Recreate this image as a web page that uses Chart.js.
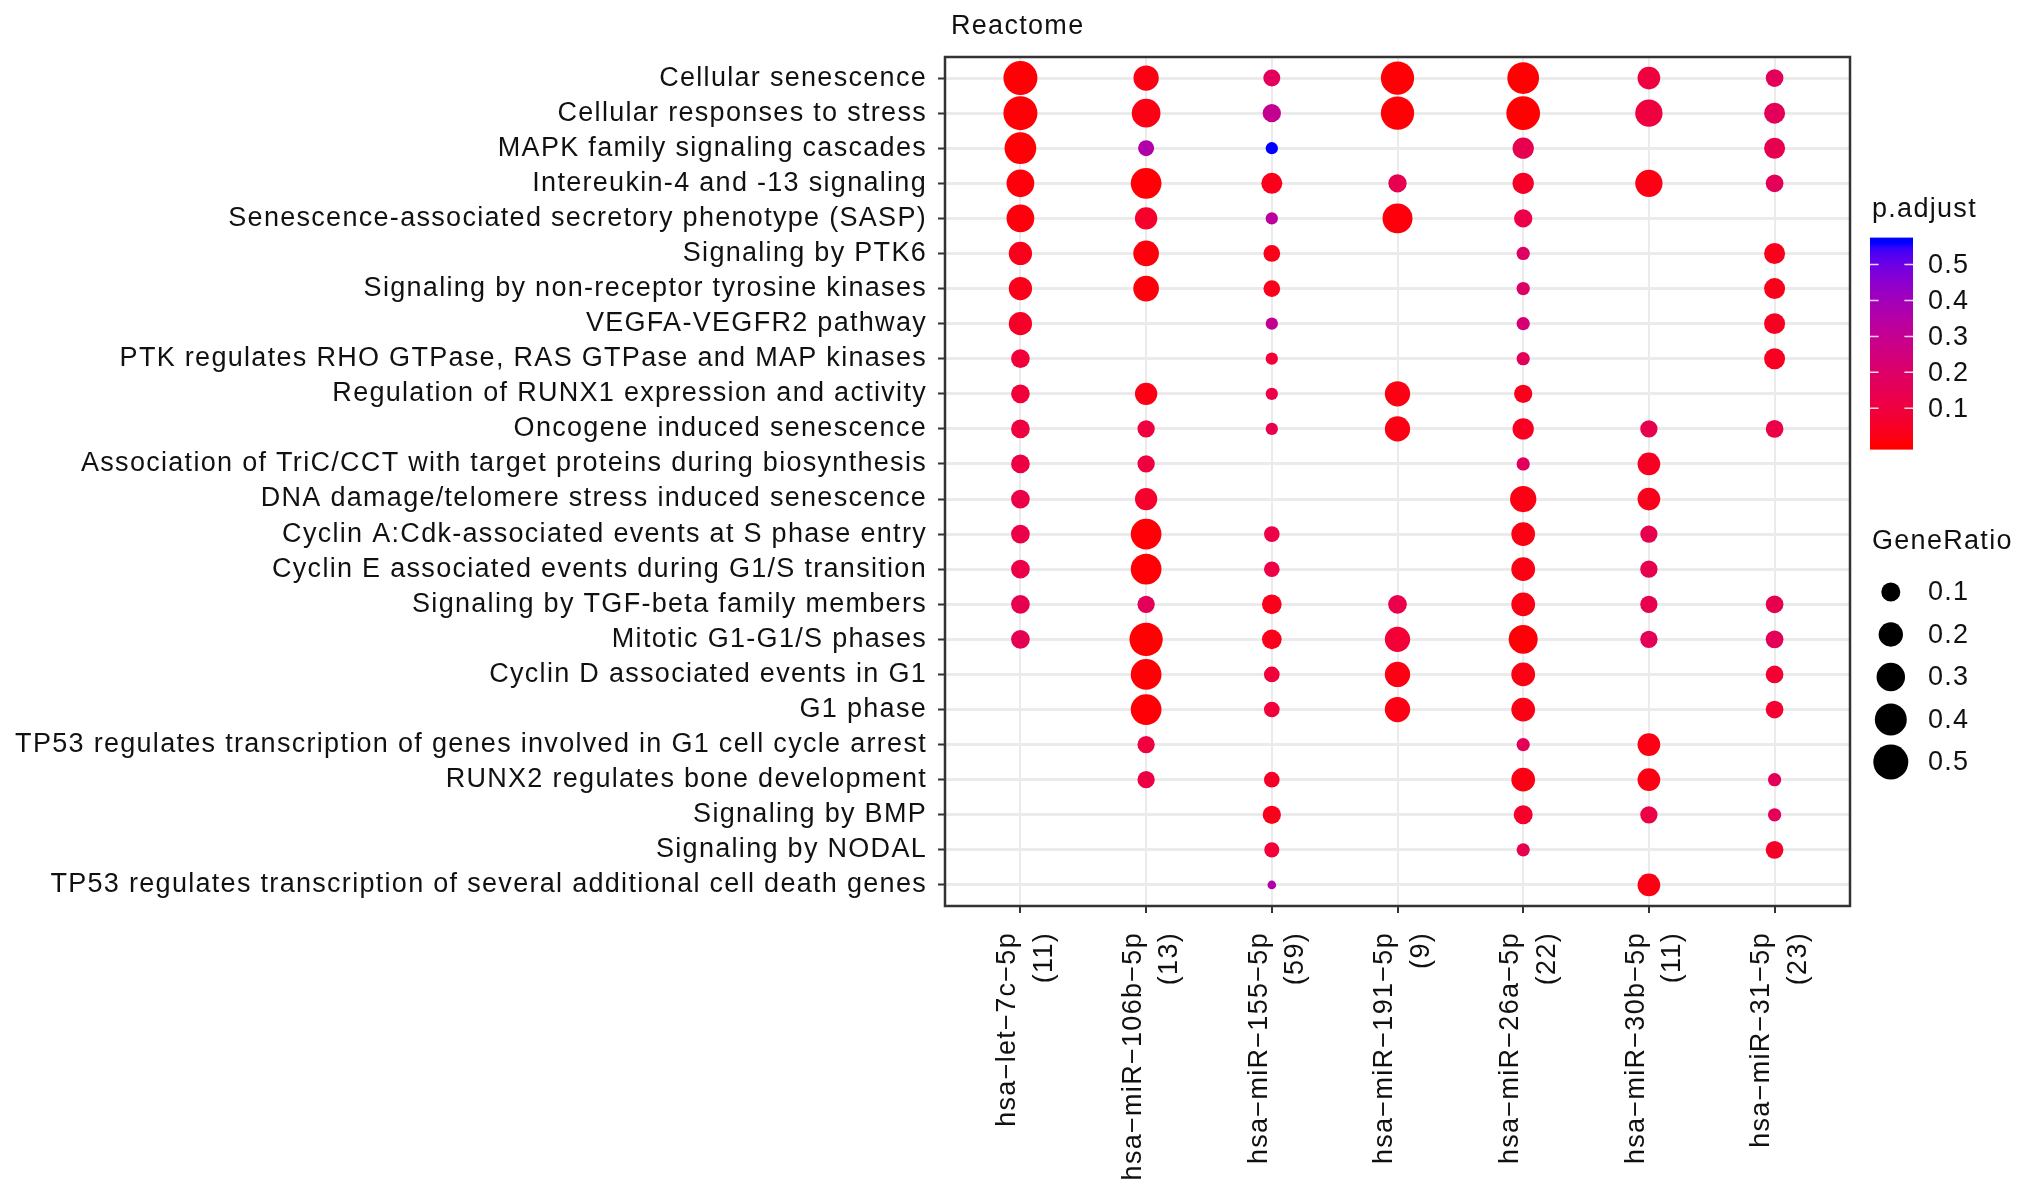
<!DOCTYPE html>
<html><head><meta charset="utf-8">
<script src="https://cdn.jsdelivr.net/npm/chart.js@4.4.1/dist/chart.umd.min.js"></script>
<style>html,body{margin:0;padding:0;background:#fff;}canvas{display:block;}</style>
</head><body>
<canvas id="c" width="2032" height="1192" style="width:2032px;height:1192px"></canvas>
<script>
// ---------------- DATA ----------------
const pathways = [
  "Cellular senescence",
  "Cellular responses to stress",
  "MAPK family signaling cascades",
  "Intereukin-4 and -13 signaling",
  "Senescence-associated secretory phenotype (SASP)",
  "Signaling by PTK6",
  "Signaling by non-receptor tyrosine kinases",
  "VEGFA-VEGFR2 pathway",
  "PTK regulates RHO GTPase, RAS GTPase and MAP kinases",
  "Regulation of RUNX1 expression and activity",
  "Oncogene induced senescence",
  "Association of TriC/CCT with target proteins during biosynthesis",
  "DNA damage/telomere stress induced senescence",
  "Cyclin A:Cdk-associated events at S phase entry",
  "Cyclin E associated events during G1/S transition",
  "Signaling by TGF-beta family members",
  "Mitotic G1-G1/S phases",
  "Cyclin D associated events in G1",
  "G1 phase",
  "TP53 regulates transcription of genes involved in G1 cell cycle arrest",
  "RUNX2 regulates bone development",
  "Signaling by BMP",
  "Signaling by NODAL",
  "TP53 regulates transcription of several additional cell death genes"
];
const mirnas = ["hsa\u2212let\u22127c\u22125p","hsa\u2212miR\u2212106b\u22125p","hsa\u2212miR\u2212155\u22125p","hsa\u2212miR\u2212191\u22125p","hsa\u2212miR\u221226a\u22125p","hsa\u2212miR\u221230b\u22125p","hsa\u2212miR\u221231\u22125p"];
const geneCounts = [11, 13, 59, 9, 22, 11, 23];

const _ = null;
// GeneRatio per miRNA (row order = pathways)
const ratioLet7c  = [.466,.466,.393,.28,.28,.177,.177,.177,.095,.095,.095,.095,.095,.095,.095,.095,.095,_,_,_,_,_,_,_];
const ratio106b   = [.221,.306,.059,.363,.158,.230,.230,_,_,.158,.075,.075,.158,.363,.363,.075,.443,.363,.363,.075,.075,_,_,_];
const ratio155    = [.071,.089,.023,.133,.023,.068,.068,.023,.023,.023,.023,_,_,.055,.055,.111,.111,.055,.055,_,.055,.089,.048,.004];
const ratio191    = [.443,.443,_,.089,.342,_,_,_,_,.221,.221,_,_,_,_,.095,.221,.221,.221,_,_,_,_,_];
const ratio26a    = [.393,.456,.139,.139,.089,.031,.031,.031,.031,.089,.139,.031,.245,.186,.186,.186,.314,.186,.186,.031,.186,.100,.031,_];
const ratio30b    = [.165,.269,_,.269,_,_,_,_,_,_,.075,.165,.165,.075,.075,.075,.075,_,_,.165,.165,.075,_,.165];
const ratio31     = [.081,.133,.133,.081,_,.133,.133,.133,.133,_,.081,_,_,_,_,.081,.081,.081,.081,_,.031,.031,.081,_];

// p.adjust per miRNA
const padjLet7c = [.005,.005,.005,.01,.01,.03,.03,.05,.09,.09,.10,.11,.12,.12,.12,.14,.15,_,_,_,_,_,_,_];
const padj106b  = [.02,.02,.36,.005,.06,.01,.01,_,_,.02,.10,.10,.06,.005,.005,.16,.003,.005,.005,.10,.11,_,_,_];
const padj155   = [.17,.30,.56,.03,.33,.03,.03,.30,.08,.12,.14,_,_,.12,.12,.03,.03,.09,.09,_,.05,.03,.08,.36];
const padj191   = [.005,.005,_,.14,.01,_,_,_,_,.02,.02,_,_,_,_,.13,.08,.02,.02,_,_,_,_,_];
const padj26a   = [.003,.003,.14,.05,.12,.19,.19,.23,.16,.03,.04,.17,.02,.02,.02,.02,.005,.02,.02,.16,.02,.06,.14,_];
const padj30b   = [.10,.10,_,.02,_,_,_,_,_,_,.14,.04,.03,.14,.14,.14,.16,_,_,.02,.02,.12,_,.02];
const padj31    = [.16,.16,.14,.16,_,.03,.03,.04,.04,_,.12,_,_,_,_,.14,.16,.07,.07,_,.16,.16,.05,_];

const ratioSeries = [ratioLet7c, ratio106b, ratio155, ratio191, ratio26a, ratio30b, ratio31];
const padjSeries  = [padjLet7c, padj106b, padj155, padj191, padj26a, padj30b, padj31];

const pBreaks = [0.1, 0.2, 0.3, 0.4, 0.5];
const sizeBreaks = [0.1, 0.2, 0.3, 0.4, 0.5];
const P_MIN = 0, P_MAX = 0.56;

// ---------------- STYLE HELPERS ----------------
const FONT = "'Liberation Sans', Arial, Helvetica, sans-serif";
const FS = 27;
const LS = '1.3px';
const TXT = '#111111';

function s2l(c){c/=255;return c<=0.04045?c/12.92:Math.pow((c+0.055)/1.055,2.4);}
function l2s(c){c=Math.max(0,Math.min(1,c));return c<=0.0031308?12.92*c:1.055*Math.pow(c,1/2.4)-0.055;}
function rgb2lab(rgb){
  const R=s2l(rgb[0]),G=s2l(rgb[1]),B=s2l(rgb[2]);
  const X=(0.4124564*R+0.3575761*G+0.1804375*B)/0.95047;
  const Y=(0.2126729*R+0.7151522*G+0.0721750*B);
  const Z=(0.0193339*R+0.1191920*G+0.9503041*B)/1.08883;
  const f=t=>t>216/24389?Math.cbrt(t):(24389/27*t+16)/116;
  const fx=f(X),fy=f(Y),fz=f(Z);
  return [116*fy-16,500*(fx-fy),200*(fy-fz)];
}
function lab2rgb(lab){
  const fy=(lab[0]+16)/116, fx=fy+lab[1]/500, fz=fy-lab[2]/200;
  const fi=t=>{const t3=t*t*t;return t3>216/24389?t3:(116*t-16)/(24389/27);};
  const X=fi(fx)*0.95047,Y=fi(fy),Z=fi(fz)*1.08883;
  const R=3.2404542*X-1.5371385*Y-0.4985314*Z;
  const G=-0.9692660*X+1.8760108*Y+0.0415560*Z;
  const B=0.0556434*X-0.2040259*Y+1.0572252*Z;
  return [R,G,B].map(c=>Math.round(l2s(c)*255));
}
const LAB_LOW = rgb2lab([255,0,0]), LAB_HIGH = rgb2lab([0,0,255]);
function colorFor(p){
  let t=(p-P_MIN)/(P_MAX-P_MIN); t=Math.max(0,Math.min(1,t));
  const lab=[0,1,2].map(i=>LAB_LOW[i]+(LAB_HIGH[i]-LAB_LOW[i])*t);
  const c=lab2rgb(lab); return 'rgb('+c[0]+','+c[1]+','+c[2]+')';
}
function diameterFor(ratio){ return 40.9*Math.sqrt(ratio)+6.07; }

// ---------------- DATASETS ----------------
const datasets = mirnas.map((m, j) => ({
  label: m,
  data: pathways.map((pw, i) => ratioSeries[j][i] == null ? null :
    { x: j + 1, y: i + 1, r: diameterFor(ratioSeries[j][i]) / 2, p: padjSeries[j][i] }).filter(d => d),
  backgroundColor: ctx => ctx.raw ? colorFor(ctx.raw.p) : '#f00',
  borderWidth: 0,
  hoverBorderWidth: 0
}));

// ---------------- PLUGIN (title, border, legends) ----------------
const decor = {
  id: 'decor',
  beforeUpdate(chart){ chart.ctx.letterSpacing = LS; },
  beforeDraw(chart){ chart.ctx.letterSpacing = LS; },
  afterDatasetsDraw(chart){
    const a = chart.chartArea, ctx = chart.ctx;
    ctx.save();
    ctx.strokeStyle = '#333333'; ctx.lineWidth = 2.5;
    ctx.strokeRect(a.left, a.top, a.right - a.left, a.bottom - a.top);
    ctx.restore();
  },
  afterDraw(chart){
    const ctx = chart.ctx, a = chart.chartArea;
    ctx.save();
    ctx.letterSpacing = LS;
    ctx.fillStyle = TXT;
    ctx.font = FS + 'px ' + FONT;
    ctx.textAlign = 'left'; ctx.textBaseline = 'alphabetic';
    ctx.fillText('Reactome', a.left + 6, 34);

    // colour bar legend
    const lx = 1870, bw = 43, bTop = 237.6, bH = 212, bBot = bTop + bH;
    ctx.fillText('p.adjust', lx + 2, 217);
    const g = ctx.createLinearGradient(0, bBot, 0, bTop);
    const N = 40;
    for (let k = 0; k <= N; k++) {
      const t = k / N;
      const f = Math.min(1, Math.max(0, 0.025 + 0.95 * t));
      g.addColorStop(f, colorFor(P_MIN + t * (P_MAX - P_MIN)));
    }
    g.addColorStop(0, colorFor(P_MIN));
    g.addColorStop(1, colorFor(P_MAX));
    ctx.fillStyle = g;
    ctx.fillRect(lx, bTop, bw, bH);
    ctx.strokeStyle = 'rgba(255,255,255,0.85)'; ctx.lineWidth = 1.5;
    ctx.fillStyle = TXT; ctx.textBaseline = 'middle';
    pBreaks.forEach(v => {
      const y = bBot - (0.025 + 0.95 * (v - P_MIN) / (P_MAX - P_MIN)) * bH;
      ctx.beginPath();
      ctx.moveTo(lx, y); ctx.lineTo(lx + bw / 5, y);
      ctx.moveTo(lx + bw - bw / 5, y); ctx.lineTo(lx + bw, y);
      ctx.stroke();
      ctx.fillText(String(v), 1928, y + 1);
    });

    // size legend
    ctx.textBaseline = 'alphabetic';
    ctx.fillText('GeneRatio', lx + 2, 549);
    ctx.textBaseline = 'middle';
    sizeBreaks.forEach((v, k) => {
      const y = 592 + k * 42.5;
      ctx.fillStyle = '#000';
      ctx.beginPath(); ctx.arc(1890.8, y, diameterFor(v) / 2, 0, Math.PI * 2); ctx.fill();
      ctx.fillStyle = TXT;
      ctx.fillText(String(v), 1928, y + 1);
    });
    ctx.restore();
  }
};

// ---------------- CHART ----------------
new Chart(document.getElementById('c'), {
  type: 'bubble',
  data: { datasets },
  options: {
    responsive: false,
    animation: false,
    devicePixelRatio: 1,
    events: [],
    layout: { autoPadding: false, padding: { left: 0, top: 57, right: 182, bottom: 0 } },
    plugins: { legend: { display: false }, tooltip: { enabled: false }, title: { display: false } },
    scales: {
      x: {
        type: 'linear', position: 'bottom', min: 0.4, max: mirnas.length + 0.6,
        afterBuildTicks: s => { s.ticks = mirnas.map((m, i) => ({ value: i + 1 })); },
        afterFit: s => { s.height = 286; },
        border: { display: false },
        grid: { color: '#EBEBEB', lineWidth: 2, tickColor: '#333333', tickWidth: 2, tickLength: 7, drawTicks: true },
        ticks: {
          autoSkip: false, minRotation: 90, maxRotation: 90, padding: 19, labelOffset: -12.7,
          color: TXT, font: { family: FONT, size: FS, lineHeight: 1.356 },
          callback: v => { const i = Math.round(v) - 1; return [mirnas[i], '(' + geneCounts[i] + ')']; }
        }
      },
      y: {
        type: 'linear', position: 'left', reverse: true, min: 0.4, max: pathways.length + 0.6,
        afterBuildTicks: s => { s.ticks = pathways.map((p, i) => ({ value: i + 1 })); },
        afterFit: s => { s.width = 945; },
        border: { display: false },
        grid: { color: '#EBEBEB', lineWidth: 3, tickColor: '#333333', tickWidth: 2, tickLength: 7, drawTicks: true },
        ticks: {
          autoSkip: false, padding: 11, color: TXT, font: { family: FONT, size: FS },
          callback: v => pathways[Math.round(v) - 1]
        }
      }
    }
  },
  plugins: [decor]
});
</script>
</body></html>
